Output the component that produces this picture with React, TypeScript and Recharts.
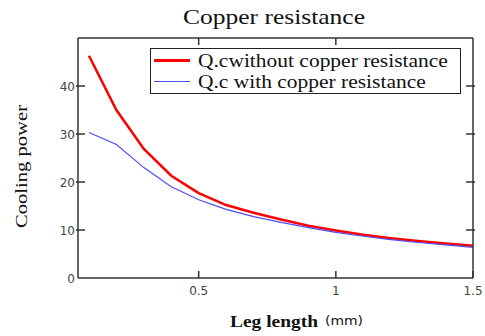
import React from 'react';
import { LineChart, Line, XAxis, YAxis } from 'recharts';

// leg length (mm)
const legLength = [0.1, 0.2, 0.3, 0.4, 0.5, 0.6, 0.7, 0.8, 0.9, 1.0, 1.1, 1.2, 1.3, 1.4, 1.5];
// cooling power without copper resistance
const withoutCopper = [46.3, 35.0, 26.9, 21.3, 17.7, 15.2, 13.6, 12.2, 10.9, 9.9, 9.0, 8.3, 7.7, 7.2, 6.7];
// cooling power with copper resistance
const withCopper = [30.3, 27.8, 23.0, 19.0, 16.3, 14.3, 12.8, 11.6, 10.5, 9.5, 8.7, 8.0, 7.4, 6.9, 6.4];

const seriesNames = ['Q.cwithout copper resistance', 'Q.c with copper resistance'];
const seriesColors = ['#ff0000', '#4d4dff'];
const seriesWidths = [2.5, 1.2];

const xTicks = [0.5, 1, 1.5];
const xTopTicks = [0.5, 1];
const yTicks = [0, 10, 20, 30, 40];
const yRightTicks = [10, 20, 30, 40];
const xMin = 0.06;
const xMax = 1.5;
const yMax = 50;

const chartData = legLength.map((x, i) => ({
  x,
  without: withoutCopper[i],
  with: withCopper[i],
}));

// plot box (chart margins + axis sizes)
const W = 485;
const H = 336;
const MARGIN = { top: 38, right: 12, bottom: 0, left: 0 };
const Y_AXIS_W = 78;
const X_AXIS_H = 58;
const plotLeft = MARGIN.left + Y_AXIS_W;
const plotRight = W - MARGIN.right;
const plotTop = MARGIN.top;
const plotBottom = H - MARGIN.bottom - X_AXIS_H;

const AXIS = '#333';
const TICK_FONT = { fontFamily: 'DejaVu Sans', fontSize: 12, fill: '#444' };
const TICK_LEN = 7;

const BottomTick = (props: any) => {
  const { x, y, payload } = props;
  return (
    <g>
      <line x1={x} x2={x} y1={y} y2={y - TICK_LEN} stroke={AXIS} strokeWidth={1.5} />
      <text x={x} y={y + 17} textAnchor="middle" {...TICK_FONT}>
        {payload.value}
      </text>
    </g>
  );
};

const LeftTick = (props: any) => {
  const { x, y, payload } = props;
  return (
    <g>
      {payload.value !== 0 && (
        <line x1={x - 2} x2={x + TICK_LEN} y1={y} y2={y} stroke={AXIS} strokeWidth={1.5} />
      )}
      <text x={x - 3} y={y + 5} textAnchor="end" {...TICK_FONT}>
        {payload.value}
      </text>
    </g>
  );
};

// top and right frame edges with inward ticks
const Frame = () => {
  const sx = (v: number) => plotLeft + ((v - xMin) / (xMax - xMin)) * (plotRight - plotLeft);
  const sy = (v: number) => plotBottom - (v / yMax) * (plotBottom - plotTop);
  return (
    <g stroke={AXIS} strokeWidth={1.5}>
      <line x1={plotLeft} x2={plotRight} y1={plotTop} y2={plotTop} />
      <line x1={plotRight} x2={plotRight} y1={plotTop} y2={plotBottom} />
      {xTopTicks.map((t) => (
        <line key={`tt-${t}`} x1={sx(t)} x2={sx(t)} y1={plotTop} y2={plotTop + TICK_LEN} />
      ))}
      {yRightTicks.map((t) => (
        <line key={`rt-${t}`} x1={plotRight - TICK_LEN} x2={plotRight + 2} y1={sy(t)} y2={sy(t)} />
      ))}
    </g>
  );
};

const LegendBox = () => (
  <div
    style={{
      position: 'absolute',
      left: 150,
      top: 48,
      width: 311,
      height: 46,
      boxSizing: 'border-box',
      border: '1.5px solid #222',
      background: '#fff',
      paddingTop: 1,
    }}
  >
    {seriesNames.map((name, i) => (
      <div key={name} style={{ display: 'flex', alignItems: 'center', height: 21 }}>
        <div
          style={{
            width: 36,
            marginLeft: 3,
            marginRight: 8,
            flexShrink: 0,
            height: seriesWidths[i],
            background: seriesColors[i],
          }}
        />
        <span
          style={{
            fontFamily: 'Liberation Serif',
            fontSize: 19,
            color: '#111',
            whiteSpace: 'nowrap',
            display: 'inline-block',
            transform: 'scaleX(1.13)',
            transformOrigin: 'left center',
          }}
        >
          {name}
        </span>
      </div>
    ))}
  </div>
);

export default function App() {
  return (
    <div style={{ position: 'absolute', left: 0, top: 0, width: W, height: H, background: '#fff' }}>
      <LineChart width={W} height={H} data={chartData} margin={MARGIN}>
        <XAxis
          dataKey="x"
          type="number"
          domain={[xMin, xMax]}
          ticks={xTicks}
          height={X_AXIS_H}
          axisLine={{ stroke: AXIS, strokeWidth: 1.5 }}
          tickLine={false}
          tickSize={0}
          tickMargin={0}
          tick={<BottomTick />}
        />
        <YAxis
          type="number"
          domain={[0, yMax]}
          ticks={yTicks}
          width={Y_AXIS_W}
          axisLine={{ stroke: AXIS, strokeWidth: 1.5 }}
          tickLine={false}
          tickSize={0}
          tickMargin={0}
          tick={<LeftTick />}
        />
        <Line
          dataKey="without"
          name={seriesNames[0]}
          stroke={seriesColors[0]}
          strokeWidth={seriesWidths[0]}
          dot={false}
          type="linear"
          isAnimationActive={false}
        />
        <Line
          dataKey="with"
          name={seriesNames[1]}
          stroke={seriesColors[1]}
          strokeWidth={seriesWidths[1]}
          dot={false}
          type="linear"
          isAnimationActive={false}
        />
      </LineChart>
      <svg
        width={W}
        height={H}
        style={{ position: 'absolute', left: 0, top: 0, pointerEvents: 'none' }}
      >
        <Frame />
        <text
          x={183}
          y={24}
          textLength={182}
          lengthAdjust="spacingAndGlyphs"
          fontFamily="Liberation Serif"
          fontSize={21}
          fill="#111"
        >
          Copper resistance
        </text>
        <text
          x={27}
          y={228}
          textLength={123}
          lengthAdjust="spacingAndGlyphs"
          transform="rotate(-90 27 228)"
          fontFamily="Liberation Serif"
          fontSize={17}
          fill="#111"
        >
          Cooling power
        </text>
        <text
          x={230}
          y={327}
          textLength={88}
          lengthAdjust="spacingAndGlyphs"
          fontFamily="Liberation Serif"
          fontWeight="bold"
          fontSize={17}
          fill="#111"
        >
          Leg length
        </text>
        <text x={325} y={325} textLength={38} lengthAdjust="spacingAndGlyphs" fontFamily="DejaVu Sans" fontSize={13} fill="#111">
          (mm)
        </text>
      </svg>
      <LegendBox />
    </div>
  );
}
